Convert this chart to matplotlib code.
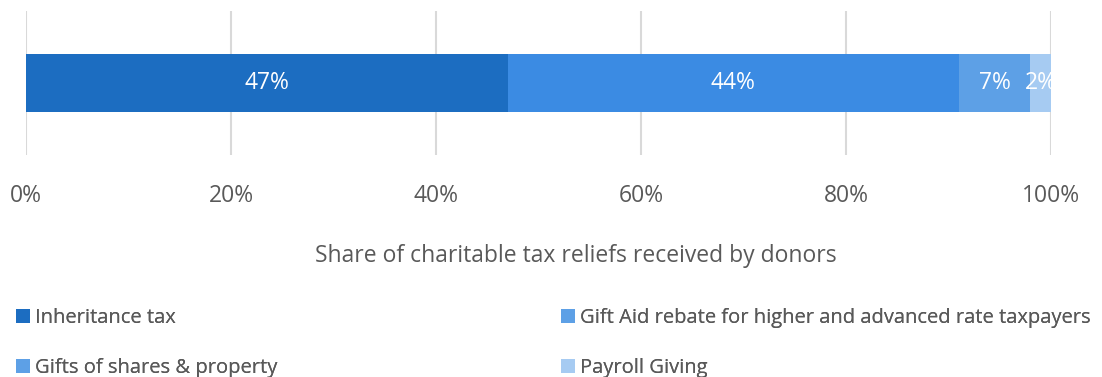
import matplotlib.pyplot as plt
from matplotlib.patches import Patch

# Share of charitable tax reliefs received by donors (%)
categories = ['Inheritance tax',
              'Gift Aid rebate for higher and advanced rate taxpayers',
              'Gifts of shares & property',
              'Payroll Giving']
shares = [47, 44, 7, 2]
colors = ['#1C6DC1', '#3B8BE3', '#5DA0E6', '#A6CBF2']
legend_colors = ['#1C6DC1', '#5DA0E6', '#5DA0E6', '#A6CBF2']
tick_values = [0, 20, 40, 60, 80, 100]
tick_labels = ['0%', '20%', '40%', '60%', '80%', '100%']

plt.rcParams['font.family'] = ['Open Sans', 'DejaVu Sans']
text_color = '#595959'

fig = plt.figure(figsize=(11.02, 3.77), dpi=100)
ax = fig.add_axes([0.0236, 0.589, 0.930, 0.382])

left = 0
for val, col in zip(shares, colors):
    ax.barh(0, val, left=left, height=0.40, color=col, zorder=3)
    ax.text(left + val / 2, 0, f'{val}%', ha='center', va='center',
            color='white', fontsize=16.5, zorder=4)
    left += val

ax.set_xlim(0, 100)
ax.set_ylim(-0.5, 0.5)
ax.set_xticks(tick_values)
ax.set_xticklabels(tick_labels, fontsize=16.5, color=text_color)
ax.set_yticks([])
ax.tick_params(axis='x', length=0, pad=21)
ax.grid(axis='x', color='#D9D9D9', linewidth=1.5, zorder=0)
for s in ax.spines.values():
    s.set_visible(False)

ax.set_xlabel('Share of charitable tax reliefs received by donors',
              fontsize=16.5, color=text_color)
ax.xaxis.set_label_coords(0.536, -0.615)

# two legend columns: left holds items 0 and 2, right holds items 1 and 3
legend_kw = dict(loc='lower left', frameon=False, fontsize=14.5,
                 labelcolor=text_color, handlelength=0.7, handleheight=0.7,
                 handletextpad=0.25, labelspacing=1.45, borderaxespad=0)
for idx, x0 in [((0, 2), 0.007), ((1, 3), 0.5015)]:
    leg = fig.legend([Patch(facecolor=legend_colors[i], edgecolor='none') for i in idx],
                     [categories[i] for i in idx],
                     bbox_to_anchor=(x0, -0.023), **legend_kw)
    fig.add_artist(leg)

fig.savefig('out.png', dpi=100)
